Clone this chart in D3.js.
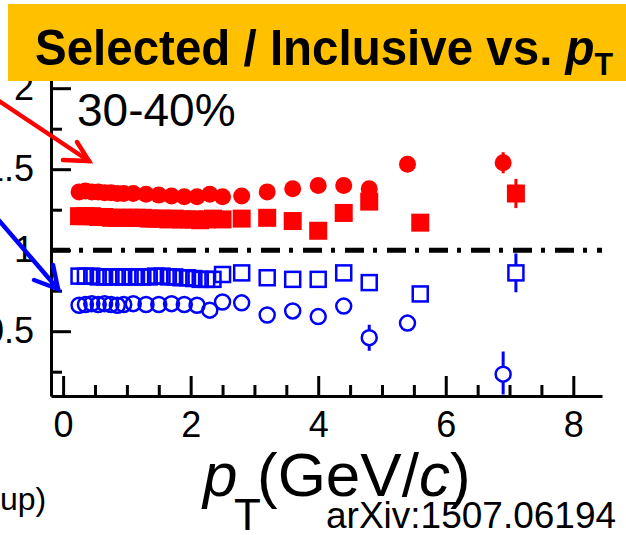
<!DOCTYPE html>
<html>
<head>
<meta charset="utf-8">
<script src="https://cdn.jsdelivr.net/npm/d3@7"></script>
<style>
  html, body { margin: 0; padding: 0; background: #fff; overflow: hidden; }
  svg { display: block; }
</style>
</head>
<body>
<svg id="chart" width="626" height="535"></svg>
<script>
// ---- data -------------------------------------------------------------
// pT bin centres (GeV/c)
const circlePt = [0.25, 0.35, 0.45, 0.55, 0.65, 0.75, 0.85, 0.95, 1.1, 1.3, 1.5, 1.7,
                  1.9, 2.1, 2.3, 2.5, 2.8, 3.2, 3.6, 4.0, 4.4, 4.8, 5.4, 6.9];
const squarePt = [0.25, 0.35, 0.45, 0.55, 0.65, 0.75, 0.85, 0.95, 1.05, 1.15, 1.25,
                  1.35, 1.45, 1.55, 1.65, 1.75, 1.85, 1.95, 2.05, 2.15, 2.25, 2.35,
                  2.5, 2.8, 3.2, 3.6, 4.0, 4.4, 4.8, 5.6, 7.1];

// red filled circles
const fullCircleVal = [1.36, 1.365, 1.36, 1.36, 1.355, 1.355, 1.35, 1.35, 1.35, 1.345, 1.34, 1.335,
                       1.33, 1.33, 1.345, 1.33, 1.335, 1.36, 1.38, 1.40, 1.40, 1.38, 1.53, 1.54];
const fullCircleErr = [0.005, 0.005, 0.005, 0.005, 0.005, 0.005, 0.005, 0.005, 0.005, 0.005, 0.005, 0.005,
                       0.005, 0.005, 0.006, 0.008, 0.01, 0.01, 0.015, 0.02, 0.02, 0.04, 0.03, 0.065];
// red filled squares
const fullSquareVal = [1.21, 1.21, 1.21, 1.205, 1.205, 1.20, 1.20, 1.20, 1.20, 1.20, 1.20,
                       1.195, 1.195, 1.195, 1.19, 1.195, 1.19, 1.19, 1.19, 1.185, 1.19, 1.195,
                       1.19, 1.195, 1.20, 1.18, 1.12, 1.23, 1.30, 1.17, 1.35];
const fullSquareErr = [0.004, 0.004, 0.004, 0.004, 0.004, 0.004, 0.004, 0.004, 0.004, 0.004, 0.004,
                       0.004, 0.004, 0.004, 0.004, 0.005, 0.005, 0.005, 0.005, 0.005, 0.005, 0.006,
                       0.008, 0.01, 0.01, 0.015, 0.02, 0.025, 0.03, 0.03, 0.09];
// blue open squares
const openSquareVal = [0.84, 0.84, 0.84, 0.835, 0.835, 0.835, 0.835, 0.835, 0.835, 0.835, 0.835,
                       0.835, 0.84, 0.84, 0.835, 0.835, 0.83, 0.83, 0.825, 0.82, 0.82, 0.82,
                       0.85, 0.86, 0.83, 0.82, 0.82, 0.86, 0.80, 0.73, 0.86];
const openSquareErr = [0.004, 0.004, 0.004, 0.004, 0.004, 0.004, 0.004, 0.004, 0.004, 0.004, 0.004,
                       0.004, 0.004, 0.004, 0.004, 0.005, 0.005, 0.005, 0.005, 0.005, 0.005, 0.006,
                       0.008, 0.01, 0.01, 0.015, 0.02, 0.025, 0.04, 0.045, 0.12];
// blue open circles
const openCircleVal = [0.66, 0.665, 0.67, 0.665, 0.67, 0.665, 0.66, 0.665, 0.67, 0.665, 0.665, 0.67,
                       0.665, 0.66, 0.63, 0.68, 0.675, 0.60, 0.625, 0.59, 0.655, 0.46, 0.55, 0.235];
const openCircleErr = [0.005, 0.005, 0.005, 0.005, 0.005, 0.005, 0.005, 0.005, 0.005, 0.005, 0.005, 0.005,
                       0.005, 0.005, 0.006, 0.008, 0.01, 0.01, 0.015, 0.02, 0.03, 0.08, 0.05, 0.14];

// axis ticks
const xMajorTicks = [0, 2, 4, 6, 8];
const xMinorTicks = [0.5, 1, 1.5, 2.5, 3, 3.5, 4.5, 5, 5.5, 6.5, 7, 7.5];
const yMajorTicks = [0.5, 1, 1.5, 2];
const yMinorTicks = [0.25, 0.75, 1.25, 1.75];

// labels
const titleText = "Selected / Inclusive vs. ";
const centralityText = "30-40%";
const sourceText = "arXiv:1507.06194";
const cutText = "up)";

// ---- drawing ----------------------------------------------------------
const FONT = '"Liberation Sans", Arial, Helvetica, sans-serif';
const RED = "#ff0000", BLUE = "#0000ff";

const svg = d3.select("#chart").style("font-family", FONT);

const x = d3.scaleLinear().domain([-0.19, 8.45]).range([51, 602]);
const y = d3.scaleLinear().domain([0.1, 2.15]).range([396, 63.9]);
const x0 = x.range()[0], y0 = y.range()[0];

function styleAxis(g) {
  g.selectAll("path, line").attr("stroke", "#000").attr("stroke-width", 3);
  g.selectAll("text").attr("fill", "#000").style("font-size", "36px").style("font-family", FONT);
}

// x axis: ticks point up into the plot
svg.append("g").attr("transform", `translate(0,${y0})`)
  .call(d3.axisBottom(x).tickValues(xMajorTicks).tickSizeInner(-20).tickSizeOuter(0)
        .tickPadding(15).tickFormat(d3.format("d")))
  .call(styleAxis);
svg.append("g").attr("transform", `translate(0,${y0})`)
  .call(d3.axisBottom(x).tickValues(xMinorTicks).tickSizeInner(-11).tickSizeOuter(0).tickFormat(""))
  .call(g => g.select(".domain").remove())
  .call(styleAxis);

// y axis: ticks point right into the plot
svg.append("g").attr("transform", `translate(${x0},0)`)
  .call(d3.axisLeft(y).tickValues(yMajorTicks).tickSizeInner(-20).tickSizeOuter(0)
        .tickPadding(17).tickFormat(d3.format("")))
  .call(styleAxis);
svg.append("g").attr("transform", `translate(${x0},0)`)
  .call(d3.axisLeft(y).tickValues(yMinorTicks).tickSizeInner(-11).tickSizeOuter(0).tickFormat(""))
  .call(g => g.select(".domain").remove())
  .call(styleAxis);

// unity reference line
svg.append("line")
  .attr("x1", x0).attr("x2", x(8.45))
  .attr("y1", y(1)).attr("y2", y(1))
  .attr("stroke", "#000").attr("stroke-width", 5)
  .attr("stroke-dasharray", "19,9,4,10");

// data markers
svg.append("defs").append("clipPath").attr("id", "plotClip")
  .append("rect").attr("x", x0).attr("y", 0).attr("width", x(8.45) - x0).attr("height", y0 - 1.5);
const plot = svg.append("g").attr("clip-path", "url(#plotClip)");

const R = 8.5;      // marker half size
function zip(xs, vs, es) { return xs.map((p, i) => ({ p, v: vs[i], e: es[i] })); }

function errorBars(data, color) {
  const g = plot.append("g").attr("stroke", color).attr("stroke-width", 3);
  data.forEach(d => {
    const yc = y(d.v), hi = y(d.v + d.e), lo = y(d.v - d.e);
    if (yc - hi > R) g.append("line").attr("x1", x(d.p)).attr("x2", x(d.p)).attr("y1", hi).attr("y2", yc - R + 1);
    if (lo - yc > R) g.append("line").attr("x1", x(d.p)).attr("x2", x(d.p)).attr("y1", yc + R - 1).attr("y2", lo);
  });
}

const fullCircles = zip(circlePt, fullCircleVal, fullCircleErr);
const fullSquares = zip(squarePt, fullSquareVal, fullSquareErr);
const openSquares = zip(squarePt, openSquareVal, openSquareErr);
const openCircles = zip(circlePt, openCircleVal, openCircleErr);

errorBars(fullCircles, RED);
errorBars(fullSquares, RED);
errorBars(openSquares, BLUE);
errorBars(openCircles, BLUE);

plot.append("g").selectAll("circle").data(fullCircles).join("circle")
  .attr("cx", d => x(d.p)).attr("cy", d => y(d.v)).attr("r", R).attr("fill", RED);
plot.append("g").selectAll("rect").data(fullSquares).join("rect")
  .attr("x", d => x(d.p) - 9).attr("y", d => y(d.v) - 9).attr("width", 18).attr("height", 18).attr("fill", RED);
plot.append("g").selectAll("rect").data(openSquares).join("rect")
  .attr("x", d => x(d.p) - 7.5).attr("y", d => y(d.v) - 7.5).attr("width", 15).attr("height", 15)
  .attr("fill", "none").attr("stroke", BLUE).attr("stroke-width", 2.5);
plot.append("g").selectAll("circle").data(openCircles).join("circle")
  .attr("cx", d => x(d.p)).attr("cy", d => y(d.v)).attr("r", 7.5)
  .attr("fill", "none").attr("stroke", BLUE).attr("stroke-width", 2.5);

// centrality label
svg.append("text").attr("x", 77).attr("y", 126)
  .style("font-size", "46px").text(centralityText);

// pointer arrows
function arrow(color, xa, ya, xb, yb, w1, w2) {
  const g = svg.append("g").attr("stroke", color).attr("stroke-width", 4.5)
    .attr("stroke-linecap", "round").attr("fill", "none");
  g.append("line").attr("x1", xa).attr("y1", ya).attr("x2", xb).attr("y2", yb);
  g.append("polyline").attr("points", [w1, [xb, yb], w2].map(p => p.join(",")).join(" "));
}
arrow(RED, -10, 95, 89, 161, [63, 160], [77, 142]);
arrow(BLUE, -10, 210, 58, 289, [34, 280], [53, 265]);

// x axis title: p_T (GeV/c)
const axisTitle = svg.append("g").style("font-size", "62px");
axisTitle.append("text").attr("x", 203).attr("y", 496).style("font-style", "italic").text("p");
axisTitle.append("text").attr("x", 234).attr("y", 530).style("font-size", "44px").text("T");
const unit = axisTitle.append("text").attr("x", 257).attr("y", 496);
unit.append("tspan").text("(GeV/");
unit.append("tspan").style("font-style", "italic").text("c");
unit.append("tspan").text(")");

svg.append("text").attr("x", 326).attr("y", 528).style("font-size", "37px").text(sourceText);
svg.append("text").attr("x", 0).attr("y", 510).style("font-size", "32px").text(cutText);

// title banner
svg.append("rect").attr("x", 8).attr("y", 4).attr("width", 630).attr("height", 77).attr("fill", "#ffc000");
const tt = svg.append("text").attr("transform", "translate(35,65) scale(0.95,1)")
  .style("font-size", "50px").style("font-weight", "bold");
tt.append("tspan").text(titleText);
tt.append("tspan").style("font-style", "italic").text("p");
tt.append("tspan").attr("dy", 10).style("font-size", "32px").text("T");
</script>
</body>
</html>
